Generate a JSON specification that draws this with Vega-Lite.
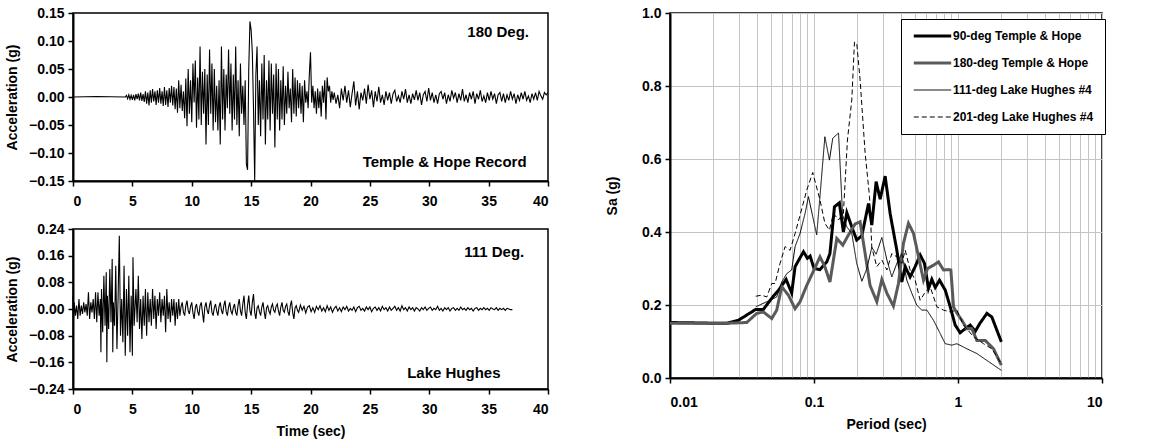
{
"$schema": "https://vega.github.io/schema/vega-lite/v6.json",
"padding": {"left": 4, "top": 5, "right": 5, "bottom": 5},
"config": {
  "font": "Liberation Sans",
  "view": {"stroke": "black", "strokeWidth": 1.5},
  "axis": {"labelFont": "Liberation Sans", "labelFontWeight": "bold", "labelFontSize": 14, "labelColor": "black",
           "titleFont": "Liberation Sans", "titleFontWeight": "bold", "titleFontSize": 14, "titleColor": "black",
           "domainColor": "black", "domainWidth": 2, "tickColor": "black", "tickWidth": 1.5, "tickSize": 5, "grid": false, "labelOverlap": false}
},
"datasets": {
  "th180": [
    {"t":0,"a":0},{"t":2,"a":0.001},{"t":4.4,"a":0},{"t":4.5,"a":0.003},{"t":4.6,"a":-0.003},{"t":4.7,"a":0.004},{"t":4.8,"a":-0.004},{"t":4.9,"a":0.003},
    {"t":5.0,"a":-0.005},{"t":5.1,"a":0.004},{"t":5.2,"a":-0.006},{"t":5.3,"a":0.005},{"t":5.4,"a":-0.004},{"t":5.5,"a":0.006},{"t":5.6,"a":-0.006},{"t":5.7,"a":0.008},{"t":5.8,"a":-0.007},{"t":5.9,"a":0.005},
    {"t":6.0,"a":-0.009},{"t":6.1,"a":0.01},{"t":6.2,"a":-0.012},{"t":6.3,"a":0.008},{"t":6.4,"a":-0.015},{"t":6.5,"a":0.012},{"t":6.6,"a":-0.01},{"t":6.7,"a":0.014},{"t":6.8,"a":-0.008},{"t":6.9,"a":0.01},
    {"t":7.0,"a":-0.014},{"t":7.1,"a":0.012},{"t":7.2,"a":-0.01},{"t":7.3,"a":0.016},{"t":7.4,"a":-0.012},{"t":7.5,"a":0.01},{"t":7.6,"a":-0.016},{"t":7.7,"a":0.018},{"t":7.8,"a":-0.014},{"t":7.9,"a":0.012},
    {"t":8.0,"a":-0.018},{"t":8.1,"a":0.016},{"t":8.2,"a":-0.01},{"t":8.3,"a":0.02},{"t":8.4,"a":-0.015},{"t":8.5,"a":0.018},{"t":8.6,"a":-0.022},{"t":8.7,"a":0.015},{"t":8.8,"a":-0.028},{"t":8.9,"a":0.03},
    {"t":9.0,"a":-0.02},{"t":9.1,"a":0.022},{"t":9.2,"a":-0.025},{"t":9.3,"a":0.01},{"t":9.4,"a":-0.038},{"t":9.5,"a":0.033},{"t":9.6,"a":-0.052},{"t":9.7,"a":0.05},{"t":9.8,"a":-0.03},{"t":9.9,"a":0.03},
    {"t":10.0,"a":-0.045},{"t":10.1,"a":0.06},{"t":10.2,"a":-0.01},{"t":10.3,"a":0.065},{"t":10.4,"a":-0.055},{"t":10.5,"a":0.035},{"t":10.6,"a":-0.04},{"t":10.7,"a":0.09},{"t":10.8,"a":-0.05},{"t":10.9,"a":0.045},
    {"t":11.0,"a":-0.03},{"t":11.1,"a":0.05},{"t":11.2,"a":-0.085},{"t":11.3,"a":0.04},{"t":11.4,"a":-0.05},{"t":11.5,"a":0.085},{"t":11.6,"a":-0.03},{"t":11.7,"a":0.06},{"t":11.8,"a":-0.06},{"t":11.9,"a":0.05},
    {"t":12.0,"a":-0.045},{"t":12.1,"a":0.02},{"t":12.2,"a":-0.06},{"t":12.3,"a":0.03},{"t":12.4,"a":-0.085},{"t":12.5,"a":0.09},{"t":12.6,"a":-0.04},{"t":12.7,"a":0.05},{"t":12.8,"a":-0.06},{"t":12.9,"a":0.04},
    {"t":13.0,"a":-0.02},{"t":13.1,"a":0.085},{"t":13.2,"a":-0.03},{"t":13.3,"a":0.06},{"t":13.4,"a":-0.06},{"t":13.5,"a":0.04},{"t":13.6,"a":-0.04},{"t":13.7,"a":0.09},{"t":13.8,"a":-0.05},{"t":13.9,"a":0.03},
    {"t":14.0,"a":-0.07},{"t":14.1,"a":0.06},{"t":14.2,"a":-0.03},{"t":14.3,"a":0.02},{"t":14.4,"a":-0.05},{"t":14.5,"a":0.03},{"t":14.6,"a":-0.12},{"t":14.7,"a":-0.13},{"t":14.8,"a":0.05},{"t":14.9,"a":0.135},
    {"t":15.0,"a":0.12},{"t":15.1,"a":0.08},{"t":15.2,"a":-0.02},{"t":15.3,"a":-0.15},{"t":15.4,"a":0.04},{"t":15.5,"a":0.09},{"t":15.6,"a":-0.05},{"t":15.7,"a":0.03},{"t":15.8,"a":-0.07},{"t":15.9,"a":0.06},
    {"t":16.0,"a":-0.04},{"t":16.1,"a":0.075},{"t":16.2,"a":-0.085},{"t":16.3,"a":0.03},{"t":16.4,"a":-0.04},{"t":16.5,"a":0.065},{"t":16.6,"a":-0.06},{"t":16.7,"a":0.06},{"t":16.8,"a":-0.03},{"t":16.9,"a":0.04},
    {"t":17.0,"a":-0.09},{"t":17.1,"a":0.06},{"t":17.2,"a":-0.04},{"t":17.3,"a":0.05},{"t":17.4,"a":-0.06},{"t":17.5,"a":0.03},{"t":17.6,"a":-0.04},{"t":17.7,"a":0.055},{"t":17.8,"a":-0.05},{"t":17.9,"a":0.02},
    {"t":18.0,"a":-0.03},{"t":18.1,"a":0.045},{"t":18.2,"a":-0.02},{"t":18.3,"a":0.015},{"t":18.4,"a":-0.045},{"t":18.5,"a":0.05},{"t":18.6,"a":-0.03},{"t":18.7,"a":0.035},{"t":18.8,"a":-0.035},{"t":18.9,"a":0.03},
    {"t":19.0,"a":-0.02},{"t":19.1,"a":0.025},{"t":19.2,"a":-0.03},{"t":19.3,"a":0.02},{"t":19.4,"a":-0.045},{"t":19.5,"a":0.03},{"t":19.6,"a":-0.01},{"t":19.7,"a":0.01},{"t":19.8,"a":-0.02},{"t":19.9,"a":0.04},
    {"t":20.0,"a":0.08},{"t":20.1,"a":-0.01},{"t":20.2,"a":0.02},{"t":20.3,"a":-0.02},{"t":20.4,"a":0.01},{"t":20.5,"a":-0.03},{"t":20.6,"a":0.015},{"t":20.7,"a":-0.02},{"t":20.8,"a":0.01},{"t":20.9,"a":-0.035},
    {"t":21.0,"a":0.02},{"t":21.1,"a":-0.01},{"t":21.2,"a":0.03},{"t":21.3,"a":-0.04},{"t":21.4,"a":0.035},{"t":21.5,"a":0.01},{"t":21.6,"a":0.02},{"t":21.7,"a":-0.01},{"t":21.8,"a":0.01},{"t":21.9,"a":-0.005},
    {"t":22.0,"a":0.008},{"t":22.15,"a":-0.012},{"t":22.3,"a":0.004},{"t":22.45,"a":-0.02},{"t":22.6,"a":0.015},{"t":22.75,"a":-0.006},{"t":22.9,"a":0.02},{"t":23.05,"a":-0.01},{"t":23.2,"a":0.012},{"t":23.35,"a":-0.018},
    {"t":23.5,"a":0.006},{"t":23.65,"a":0.028},{"t":23.8,"a":-0.015},{"t":23.95,"a":0.01},{"t":24.1,"a":-0.022},{"t":24.25,"a":0.008},{"t":24.4,"a":-0.006},{"t":24.55,"a":0.015},{"t":24.7,"a":-0.012},{"t":24.85,"a":0.022},
    {"t":25.0,"a":-0.004},{"t":25.15,"a":0.012},{"t":25.3,"a":-0.018},{"t":25.45,"a":0.01},{"t":25.6,"a":-0.008},{"t":25.75,"a":0.018},{"t":25.9,"a":-0.01},{"t":26.05,"a":0.004},{"t":26.2,"a":-0.014},{"t":26.35,"a":0.01},
    {"t":26.5,"a":-0.006},{"t":26.65,"a":0.008},{"t":26.8,"a":-0.012},{"t":26.95,"a":0.006},{"t":27.1,"a":0.012},{"t":27.25,"a":-0.008},{"t":27.4,"a":0.002},{"t":27.55,"a":-0.01},{"t":27.7,"a":0.01},{"t":27.85,"a":-0.004},
    {"t":28.0,"a":0.014},{"t":28.15,"a":-0.01},{"t":28.3,"a":0.004},{"t":28.45,"a":-0.012},{"t":28.6,"a":0.006},{"t":28.75,"a":-0.005},{"t":28.9,"a":0.012},{"t":29.05,"a":-0.006},{"t":29.2,"a":0.008},{"t":29.35,"a":-0.014},
    {"t":29.5,"a":0.004},{"t":29.65,"a":0.01},{"t":29.8,"a":-0.008},{"t":29.95,"a":0.016},{"t":30.1,"a":-0.006},{"t":30.25,"a":0.008},{"t":30.4,"a":-0.01},{"t":30.55,"a":0.004},{"t":30.7,"a":-0.012},{"t":30.85,"a":0.006},
    {"t":31.0,"a":0.01},{"t":31.15,"a":-0.004},{"t":31.3,"a":0.008},{"t":31.45,"a":-0.012},{"t":31.6,"a":0.004},{"t":31.75,"a":-0.008},{"t":31.9,"a":0.012},{"t":32.05,"a":-0.002},{"t":32.2,"a":0.008},{"t":32.35,"a":-0.01},
    {"t":32.5,"a":0.006},{"t":32.65,"a":-0.006},{"t":32.8,"a":0.014},{"t":32.95,"a":-0.008},{"t":33.1,"a":0.004},{"t":33.25,"a":-0.01},{"t":33.4,"a":0.008},{"t":33.55,"a":-0.004},{"t":33.7,"a":0.01},{"t":33.85,"a":-0.012},
    {"t":34.0,"a":0.006},{"t":34.15,"a":-0.004},{"t":34.3,"a":0.012},{"t":34.45,"a":-0.008},{"t":34.6,"a":0.002},{"t":34.75,"a":-0.01},{"t":34.9,"a":0.008},{"t":35.05,"a":-0.006},{"t":35.2,"a":0.01},{"t":35.35,"a":-0.004},
    {"t":35.5,"a":0.006},{"t":35.65,"a":-0.012},{"t":35.8,"a":0.004},{"t":35.95,"a":0.008},{"t":36.1,"a":-0.008},{"t":36.25,"a":0.006},{"t":36.4,"a":-0.01},{"t":36.55,"a":0.004},{"t":36.7,"a":-0.006},{"t":36.85,"a":0.01},
    {"t":37.0,"a":-0.004},{"t":37.15,"a":0.006},{"t":37.3,"a":-0.012},{"t":37.45,"a":0.004},{"t":37.6,"a":-0.006},{"t":37.75,"a":0.008},{"t":37.9,"a":-0.004},{"t":38.05,"a":0.01},{"t":38.2,"a":-0.006},{"t":38.35,"a":0.002},
    {"t":38.5,"a":-0.01},{"t":38.65,"a":0.006},{"t":38.8,"a":-0.004},{"t":38.95,"a":0.008},{"t":39.1,"a":-0.006},{"t":39.25,"a":0.01},{"t":39.4,"a":0.002},{"t":39.55,"a":-0.004},{"t":39.7,"a":0.008},{"t":39.85,"a":0.004},{"t":40.0,"a":0.008}
  ],
  "th111": [
    {"t":0.0,"a":0.04},{"t":0.05,"a":-0.03},{"t":0.1,"a":0.02},{"t":0.2,"a":-0.02},{"t":0.3,"a":0.01},{"t":0.4,"a":-0.03},{"t":0.5,"a":0.03},{"t":0.6,"a":-0.02},{"t":0.7,"a":0.01},{"t":0.8,"a":-0.015},{"t":0.9,"a":0.02},
    {"t":1.0,"a":-0.01},{"t":1.1,"a":0.015},{"t":1.2,"a":-0.02},{"t":1.3,"a":0.05},{"t":1.4,"a":-0.03},{"t":1.5,"a":0.02},{"t":1.6,"a":-0.01},{"t":1.7,"a":0.03},{"t":1.8,"a":-0.03},{"t":1.9,"a":0.05},
    {"t":2.0,"a":-0.04},{"t":2.1,"a":0.05},{"t":2.2,"a":-0.02},{"t":2.3,"a":0.03},{"t":2.35,"a":-0.13},{"t":2.4,"a":0.06},{"t":2.5,"a":-0.07},{"t":2.6,"a":0.1},{"t":2.7,"a":-0.05},{"t":2.8,"a":0.11},{"t":2.85,"a":-0.16},{"t":2.9,"a":0.04},
    {"t":3.0,"a":-0.06},{"t":3.1,"a":0.12},{"t":3.2,"a":-0.04},{"t":3.3,"a":0.15},{"t":3.35,"a":-0.13},{"t":3.4,"a":0.02},{"t":3.5,"a":-0.05},{"t":3.6,"a":0.13},{"t":3.7,"a":-0.12},{"t":3.8,"a":0.04},{"t":3.9,"a":0.22},
    {"t":4.0,"a":-0.08},{"t":4.1,"a":0.03},{"t":4.2,"a":-0.1},{"t":4.3,"a":0.13},{"t":4.4,"a":-0.14},{"t":4.5,"a":0.06},{"t":4.6,"a":-0.08},{"t":4.7,"a":0.1},{"t":4.8,"a":-0.13},{"t":4.9,"a":0.04},
    {"t":5.0,"a":-0.14},{"t":5.05,"a":0.155},{"t":5.15,"a":-0.05},{"t":5.3,"a":0.06},{"t":5.4,"a":-0.04},{"t":5.5,"a":0.1},{"t":5.6,"a":-0.06},{"t":5.7,"a":0.03},{"t":5.8,"a":-0.09},{"t":5.9,"a":0.04},
    {"t":6.0,"a":-0.05},{"t":6.1,"a":0.06},{"t":6.2,"a":-0.08},{"t":6.3,"a":0.05},{"t":6.4,"a":-0.04},{"t":6.5,"a":0.03},{"t":6.6,"a":-0.05},{"t":6.7,"a":0.06},{"t":6.8,"a":-0.03},{"t":6.9,"a":0.04},
    {"t":7.0,"a":-0.06},{"t":7.1,"a":0.03},{"t":7.2,"a":-0.02},{"t":7.3,"a":0.05},{"t":7.4,"a":-0.04},{"t":7.5,"a":0.03},{"t":7.6,"a":-0.02},{"t":7.7,"a":0.04},{"t":7.8,"a":-0.07},{"t":7.9,"a":0.06},
    {"t":8.0,"a":-0.03},{"t":8.1,"a":0.02},{"t":8.2,"a":-0.04},{"t":8.3,"a":0.03},{"t":8.4,"a":-0.02},{"t":8.5,"a":0.03},{"t":8.6,"a":-0.05},{"t":8.7,"a":0.02},{"t":8.8,"a":-0.03},{"t":8.9,"a":0.03},
    {"t":9.0,"a":-0.02},{"t":9.1,"a":0.008},{"t":9.2,"a":0.02},{"t":9.3,"a":-0.01},{"t":9.4,"a":-0.02},{"t":9.5,"a":0.01},{"t":9.6,"a":0.025},{"t":9.7,"a":-0.005},{"t":9.8,"a":-0.015},{"t":9.9,"a":0.008},
    {"t":10.0,"a":0.02},{"t":10.1,"a":-0.012},{"t":10.2,"a":-0.03},{"t":10.3,"a":0.004},{"t":10.4,"a":0.015},{"t":10.5,"a":-0.008},{"t":10.6,"a":-0.02},{"t":10.7,"a":0.01},{"t":10.8,"a":0.02},{"t":10.9,"a":-0.01},
    {"t":11.0,"a":-0.04},{"t":11.1,"a":0.006},{"t":11.2,"a":0.02},{"t":11.3,"a":-0.004},{"t":11.4,"a":-0.015},{"t":11.5,"a":0.012},{"t":11.6,"a":0.025},{"t":11.7,"a":-0.01},{"t":11.8,"a":-0.02},{"t":11.9,"a":0.004},
    {"t":12.0,"a":0.015},{"t":12.1,"a":-0.006},{"t":12.2,"a":-0.02},{"t":12.3,"a":0.008},{"t":12.4,"a":0.02},{"t":12.5,"a":-0.004},{"t":12.6,"a":-0.015},{"t":12.7,"a":0.01},{"t":12.8,"a":0.025},{"t":12.9,"a":-0.008},
    {"t":13.0,"a":-0.02},{"t":13.1,"a":0.006},{"t":13.2,"a":0.02},{"t":13.3,"a":-0.006},{"t":13.4,"a":-0.015},{"t":13.5,"a":0.004},{"t":13.6,"a":0.015},{"t":13.7,"a":-0.01},{"t":13.8,"a":-0.02},{"t":13.9,"a":0.012},
    {"t":14.0,"a":0.03},{"t":14.1,"a":-0.006},{"t":14.2,"a":-0.02},{"t":14.3,"a":0.015},{"t":14.4,"a":0.04},{"t":14.5,"a":-0.01},{"t":14.6,"a":-0.03},{"t":14.7,"a":0.012},{"t":14.8,"a":0.04},{"t":14.9,"a":-0.005},
    {"t":15.0,"a":-0.02},{"t":15.1,"a":0.02},{"t":15.2,"a":0.045},{"t":15.3,"a":-0.01},{"t":15.4,"a":-0.03},{"t":15.5,"a":0.004},{"t":15.6,"a":0.01},{"t":15.7,"a":-0.008},{"t":15.8,"a":-0.02},{"t":15.9,"a":0.006},
    {"t":16.0,"a":0.02},{"t":16.1,"a":-0.008},{"t":16.2,"a":-0.03},{"t":16.3,"a":0.004},{"t":16.4,"a":0.01},{"t":16.5,"a":-0.006},{"t":16.6,"a":-0.015},{"t":16.7,"a":0.006},{"t":16.8,"a":0.015},{"t":16.9,"a":-0.004},
    {"t":17.0,"a":-0.01},{"t":17.1,"a":0.008},{"t":17.2,"a":0.015},{"t":17.3,"a":-0.006},{"t":17.4,"a":-0.02},{"t":17.5,"a":0.006},{"t":17.6,"a":0.02},{"t":17.7,"a":-0.004},{"t":17.8,"a":-0.01},{"t":17.9,"a":0.008},
    {"t":18.0,"a":0.015},{"t":18.1,"a":-0.008},{"t":18.2,"a":-0.02},{"t":18.3,"a":0.01},{"t":18.4,"a":0.025},{"t":18.5,"a":-0.01},{"t":18.6,"a":-0.03},{"t":18.7,"a":0.004},{"t":18.8,"a":0.01},{"t":18.9,"a":-0.004},
    {"t":19.0,"a":-0.01},{"t":19.15,"a":0.012},{"t":19.3,"a":-0.004},{"t":19.45,"a":0.008},{"t":19.6,"a":-0.012},{"t":19.75,"a":0.006},{"t":19.9,"a":0.01},{"t":20.05,"a":-0.008},{"t":20.2,"a":0.004},{"t":20.35,"a":-0.01},
    {"t":20.5,"a":0.008},{"t":20.65,"a":-0.002},{"t":20.8,"a":0.01},{"t":20.95,"a":-0.006},{"t":21.1,"a":0.004},{"t":21.25,"a":-0.008},{"t":21.4,"a":0.01},{"t":21.55,"a":-0.004},{"t":21.7,"a":0.006},{"t":21.85,"a":-0.01},
    {"t":22.0,"a":0.002},{"t":22.15,"a":0.008},{"t":22.3,"a":-0.006},{"t":22.45,"a":0.004},{"t":22.6,"a":-0.008},{"t":22.75,"a":0.006},{"t":22.9,"a":-0.002},{"t":23.05,"a":0.008},{"t":23.2,"a":-0.006},{"t":23.35,"a":0.002},
    {"t":23.5,"a":-0.004},{"t":23.65,"a":0.006},{"t":23.8,"a":-0.008},{"t":23.95,"a":0.004},{"t":24.1,"a":0.008},{"t":24.25,"a":-0.004},{"t":24.4,"a":0.002},{"t":24.55,"a":-0.006},{"t":24.7,"a":0.006},{"t":24.85,"a":-0.002},
    {"t":25.0,"a":0.006},{"t":25.15,"a":-0.008},{"t":25.3,"a":0.002},{"t":25.45,"a":0.006},{"t":25.6,"a":-0.004},{"t":25.75,"a":0.004},{"t":25.9,"a":-0.006},{"t":26.05,"a":0.008},{"t":26.2,"a":-0.002},{"t":26.35,"a":0.004},
    {"t":26.5,"a":-0.006},{"t":26.65,"a":0.006},{"t":26.8,"a":-0.004},{"t":26.95,"a":0.002},{"t":27.1,"a":0.008},{"t":27.25,"a":-0.004},{"t":27.4,"a":0.004},{"t":27.55,"a":-0.006},{"t":27.7,"a":0.01},{"t":27.85,"a":-0.002},
    {"t":28.0,"a":0.004},{"t":28.15,"a":-0.006},{"t":28.3,"a":0.006},{"t":28.45,"a":-0.002},{"t":28.6,"a":0.004},{"t":28.75,"a":-0.006},{"t":28.9,"a":0.004},{"t":29.05,"a":0.0},{"t":29.2,"a":-0.006},{"t":29.35,"a":0.004},
    {"t":29.5,"a":-0.002},{"t":29.65,"a":0.006},{"t":29.8,"a":-0.004},{"t":29.95,"a":0.002},{"t":30.1,"a":0.006},{"t":30.25,"a":-0.004},{"t":30.4,"a":0.002},{"t":30.55,"a":-0.002},{"t":30.7,"a":0.008},{"t":30.85,"a":-0.004},
    {"t":31.0,"a":0.002},{"t":31.15,"a":-0.006},{"t":31.3,"a":0.004},{"t":31.45,"a":-0.002},{"t":31.6,"a":0.004},{"t":31.75,"a":-0.006},{"t":31.9,"a":0.002},{"t":32.05,"a":0.004},{"t":32.2,"a":-0.004},{"t":32.35,"a":0.002},
    {"t":32.5,"a":-0.004},{"t":32.65,"a":0.006},{"t":32.8,"a":-0.002},{"t":32.95,"a":0.002},{"t":33.1,"a":-0.004},{"t":33.25,"a":0.004},{"t":33.4,"a":-0.002},{"t":33.55,"a":0.002},{"t":33.7,"a":-0.006},{"t":33.85,"a":0.002},
    {"t":34.0,"a":0.004},{"t":34.15,"a":-0.004},{"t":34.3,"a":0.002},{"t":34.45,"a":-0.002},{"t":34.6,"a":0.004},{"t":34.75,"a":-0.002},{"t":34.9,"a":0.002},{"t":35.05,"a":-0.004},{"t":35.2,"a":0.004},{"t":35.35,"a":0.0},
    {"t":35.5,"a":-0.002},{"t":35.65,"a":0.004},{"t":35.8,"a":-0.004},{"t":35.95,"a":0.002},{"t":36.1,"a":-0.002},{"t":36.25,"a":0.002},{"t":36.4,"a":-0.004},{"t":36.55,"a":0.002},{"t":36.7,"a":0.0},{"t":36.85,"a":-0.002},{"t":37.0,"a":-0.002}
  ],
  "notes180": [
    {"t": 38.4, "a": 0.116, "label": "180 Deg."},
    {"t": 38.2, "a": -0.116, "label": "Temple & Hope Record"}
  ],
  "notes111": [
    {"t": 38.0, "a": 0.171, "label": "111 Deg."},
    {"t": 36.0, "a": -0.192, "label": "Lake Hughes"}
  ],
  "sa": [
    {"s":"90-deg Temple & Hope","T":0.01,"v":0.152},{"s":"90-deg Temple & Hope","T":0.015,"v":0.151},{"s":"90-deg Temple & Hope","T":0.02,"v":0.15},{"s":"90-deg Temple & Hope","T":0.0248,"v":0.15},
    {"s":"90-deg Temple & Hope","T":0.0298,"v":0.158},{"s":"90-deg Temple & Hope","T":0.0394,"v":0.188},{"s":"90-deg Temple & Hope","T":0.0445,"v":0.188},{"s":"90-deg Temple & Hope","T":0.0517,"v":0.222},
    {"s":"90-deg Temple & Hope","T":0.0566,"v":0.24},{"s":"90-deg Temple & Hope","T":0.064,"v":0.27},{"s":"90-deg Temple & Hope","T":0.07,"v":0.233},{"s":"90-deg Temple & Hope","T":0.0739,"v":0.305},
    {"s":"90-deg Temple & Hope","T":0.0845,"v":0.346},{"s":"90-deg Temple & Hope","T":0.09,"v":0.328},{"s":"90-deg Temple & Hope","T":0.094,"v":0.334},{"s":"90-deg Temple & Hope","T":0.1,"v":0.3},
    {"s":"90-deg Temple & Hope","T":0.11,"v":0.297},{"s":"90-deg Temple & Hope","T":0.1227,"v":0.318},{"s":"90-deg Temple & Hope","T":0.129,"v":0.341},{"s":"90-deg Temple & Hope","T":0.1387,"v":0.469},
    {"s":"90-deg Temple & Hope","T":0.15,"v":0.48},{"s":"90-deg Temple & Hope","T":0.16,"v":0.4},{"s":"90-deg Temple & Hope","T":0.169,"v":0.453},{"s":"90-deg Temple & Hope","T":0.183,"v":0.414},
    {"s":"90-deg Temple & Hope","T":0.198,"v":0.378},{"s":"90-deg Temple & Hope","T":0.215,"v":0.39},{"s":"90-deg Temple & Hope","T":0.239,"v":0.478},{"s":"90-deg Temple & Hope","T":0.252,"v":0.419},
    {"s":"90-deg Temple & Hope","T":0.27,"v":0.538},{"s":"90-deg Temple & Hope","T":0.288,"v":0.49},{"s":"90-deg Temple & Hope","T":0.312,"v":0.553},{"s":"90-deg Temple & Hope","T":0.338,"v":0.45},
    {"s":"90-deg Temple & Hope","T":0.376,"v":0.35},{"s":"90-deg Temple & Hope","T":0.407,"v":0.263},{"s":"90-deg Temple & Hope","T":0.43,"v":0.305},{"s":"90-deg Temple & Hope","T":0.465,"v":0.277},
    {"s":"90-deg Temple & Hope","T":0.504,"v":0.305},{"s":"90-deg Temple & Hope","T":0.546,"v":0.337},{"s":"90-deg Temple & Hope","T":0.585,"v":0.314},{"s":"90-deg Temple & Hope","T":0.624,"v":0.245},
    {"s":"90-deg Temple & Hope","T":0.658,"v":0.27},{"s":"90-deg Temple & Hope","T":0.695,"v":0.248},{"s":"90-deg Temple & Hope","T":0.744,"v":0.268},{"s":"90-deg Temple & Hope","T":0.815,"v":0.241},
    {"s":"90-deg Temple & Hope","T":0.883,"v":0.195},{"s":"90-deg Temple & Hope","T":0.956,"v":0.145},{"s":"90-deg Temple & Hope","T":1.035,"v":0.124},{"s":"90-deg Temple & Hope","T":1.122,"v":0.135},
    {"s":"90-deg Temple & Hope","T":1.216,"v":0.145},{"s":"90-deg Temple & Hope","T":1.318,"v":0.128},{"s":"90-deg Temple & Hope","T":1.426,"v":0.151},{"s":"90-deg Temple & Hope","T":1.588,"v":0.177},
    {"s":"90-deg Temple & Hope","T":1.718,"v":0.167},{"s":"90-deg Temple & Hope","T":2.0,"v":0.099},

    {"s":"180-deg Temple & Hope","T":0.01,"v":0.15},{"s":"180-deg Temple & Hope","T":0.015,"v":0.15},{"s":"180-deg Temple & Hope","T":0.02,"v":0.15},{"s":"180-deg Temple & Hope","T":0.0248,"v":0.15},
    {"s":"180-deg Temple & Hope","T":0.0341,"v":0.152},{"s":"180-deg Temple & Hope","T":0.04,"v":0.177},{"s":"180-deg Temple & Hope","T":0.0445,"v":0.181},{"s":"180-deg Temple & Hope","T":0.0509,"v":0.163},
    {"s":"180-deg Temple & Hope","T":0.0551,"v":0.186},{"s":"180-deg Temple & Hope","T":0.0597,"v":0.25},{"s":"180-deg Temple & Hope","T":0.0664,"v":0.227},{"s":"180-deg Temple & Hope","T":0.0739,"v":0.19},
    {"s":"180-deg Temple & Hope","T":0.08,"v":0.209},{"s":"180-deg Temple & Hope","T":0.0891,"v":0.254},{"s":"180-deg Temple & Hope","T":0.1,"v":0.296},{"s":"180-deg Temple & Hope","T":0.11,"v":0.332},
    {"s":"180-deg Temple & Hope","T":0.119,"v":0.305},{"s":"180-deg Temple & Hope","T":0.129,"v":0.263},{"s":"180-deg Temple & Hope","T":0.144,"v":0.382},{"s":"180-deg Temple & Hope","T":0.1585,"v":0.364},
    {"s":"180-deg Temple & Hope","T":0.1735,"v":0.392},{"s":"180-deg Temple & Hope","T":0.193,"v":0.422},{"s":"180-deg Temple & Hope","T":0.209,"v":0.428},{"s":"180-deg Temple & Hope","T":0.2265,"v":0.341},
    {"s":"180-deg Temple & Hope","T":0.245,"v":0.254},{"s":"180-deg Temple & Hope","T":0.273,"v":0.209},{"s":"180-deg Temple & Hope","T":0.296,"v":0.27},{"s":"180-deg Temple & Hope","T":0.321,"v":0.232},
    {"s":"180-deg Temple & Hope","T":0.356,"v":0.197},{"s":"180-deg Temple & Hope","T":0.386,"v":0.259},{"s":"180-deg Temple & Hope","T":0.418,"v":0.369},{"s":"180-deg Temple & Hope","T":0.453,"v":0.424},
    {"s":"180-deg Temple & Hope","T":0.491,"v":0.396},{"s":"180-deg Temple & Hope","T":0.532,"v":0.332},{"s":"180-deg Temple & Hope","T":0.576,"v":0.268},{"s":"180-deg Temple & Hope","T":0.614,"v":0.3},
    {"s":"180-deg Temple & Hope","T":0.676,"v":0.309},{"s":"180-deg Temple & Hope","T":0.732,"v":0.318},{"s":"180-deg Temple & Hope","T":0.793,"v":0.296},{"s":"180-deg Temple & Hope","T":0.859,"v":0.297},
    {"s":"180-deg Temple & Hope","T":0.892,"v":0.296},{"s":"180-deg Temple & Hope","T":0.931,"v":0.195},{"s":"180-deg Temple & Hope","T":0.982,"v":0.178},{"s":"180-deg Temple & Hope","T":1.064,"v":0.158},
    {"s":"180-deg Temple & Hope","T":1.153,"v":0.135},{"s":"180-deg Temple & Hope","T":1.249,"v":0.135},{"s":"180-deg Temple & Hope","T":1.352,"v":0.103},{"s":"180-deg Temple & Hope","T":1.545,"v":0.103},
    {"s":"180-deg Temple & Hope","T":1.766,"v":0.08},{"s":"180-deg Temple & Hope","T":2.0,"v":0.035},

    {"s":"111-deg Lake Hughes #4","T":0.0394,"v":0.195},{"s":"111-deg Lake Hughes #4","T":0.047,"v":0.209},{"s":"111-deg Lake Hughes #4","T":0.0551,"v":0.222},{"s":"111-deg Lake Hughes #4","T":0.0597,"v":0.263},
    {"s":"111-deg Lake Hughes #4","T":0.0647,"v":0.286},{"s":"111-deg Lake Hughes #4","T":0.07,"v":0.296},{"s":"111-deg Lake Hughes #4","T":0.0739,"v":0.36},{"s":"111-deg Lake Hughes #4","T":0.08,"v":0.396},
    {"s":"111-deg Lake Hughes #4","T":0.0867,"v":0.451},{"s":"111-deg Lake Hughes #4","T":0.0915,"v":0.497},{"s":"111-deg Lake Hughes #4","T":0.098,"v":0.442},{"s":"111-deg Lake Hughes #4","T":0.1044,"v":0.392},
    {"s":"111-deg Lake Hughes #4","T":0.11,"v":0.497},{"s":"111-deg Lake Hughes #4","T":0.119,"v":0.661},{"s":"111-deg Lake Hughes #4","T":0.128,"v":0.597},{"s":"111-deg Lake Hughes #4","T":0.135,"v":0.657},
    {"s":"111-deg Lake Hughes #4","T":0.148,"v":0.671},{"s":"111-deg Lake Hughes #4","T":0.158,"v":0.446},{"s":"111-deg Lake Hughes #4","T":0.169,"v":0.414},{"s":"111-deg Lake Hughes #4","T":0.183,"v":0.396},
    {"s":"111-deg Lake Hughes #4","T":0.198,"v":0.314},{"s":"111-deg Lake Hughes #4","T":0.215,"v":0.265},{"s":"111-deg Lake Hughes #4","T":0.2328,"v":0.3},{"s":"111-deg Lake Hughes #4","T":0.252,"v":0.358},
    {"s":"111-deg Lake Hughes #4","T":0.27,"v":0.339},{"s":"111-deg Lake Hughes #4","T":0.296,"v":0.385},{"s":"111-deg Lake Hughes #4","T":0.321,"v":0.323},{"s":"111-deg Lake Hughes #4","T":0.347,"v":0.277},
    {"s":"111-deg Lake Hughes #4","T":0.376,"v":0.314},{"s":"111-deg Lake Hughes #4","T":0.407,"v":0.341},{"s":"111-deg Lake Hughes #4","T":0.441,"v":0.268},{"s":"111-deg Lake Hughes #4","T":0.478,"v":0.232},
    {"s":"111-deg Lake Hughes #4","T":0.518,"v":0.199},{"s":"111-deg Lake Hughes #4","T":0.561,"v":0.186},{"s":"111-deg Lake Hughes #4","T":0.608,"v":0.186},{"s":"111-deg Lake Hughes #4","T":0.676,"v":0.158},
    {"s":"111-deg Lake Hughes #4","T":0.752,"v":0.122},{"s":"111-deg Lake Hughes #4","T":0.815,"v":0.094},{"s":"111-deg Lake Hughes #4","T":0.906,"v":0.09},{"s":"111-deg Lake Hughes #4","T":0.982,"v":0.094},
    {"s":"111-deg Lake Hughes #4","T":1.153,"v":0.08},{"s":"111-deg Lake Hughes #4","T":1.352,"v":0.067},{"s":"111-deg Lake Hughes #4","T":1.588,"v":0.048},{"s":"111-deg Lake Hughes #4","T":2.0,"v":0.021},

    {"s":"201-deg Lake Hughes #4","T":0.0394,"v":0.224},{"s":"201-deg Lake Hughes #4","T":0.0434,"v":0.227},{"s":"201-deg Lake Hughes #4","T":0.047,"v":0.222},{"s":"201-deg Lake Hughes #4","T":0.0509,"v":0.259},
    {"s":"201-deg Lake Hughes #4","T":0.0537,"v":0.259},{"s":"201-deg Lake Hughes #4","T":0.0581,"v":0.314},{"s":"201-deg Lake Hughes #4","T":0.063,"v":0.36},{"s":"201-deg Lake Hughes #4","T":0.0682,"v":0.35},
    {"s":"201-deg Lake Hughes #4","T":0.0739,"v":0.396},{"s":"201-deg Lake Hughes #4","T":0.08,"v":0.446},{"s":"201-deg Lake Hughes #4","T":0.0891,"v":0.515},{"s":"201-deg Lake Hughes #4","T":0.098,"v":0.563},
    {"s":"201-deg Lake Hughes #4","T":0.11,"v":0.488},{"s":"201-deg Lake Hughes #4","T":0.119,"v":0.424},{"s":"201-deg Lake Hughes #4","T":0.128,"v":0.405},{"s":"201-deg Lake Hughes #4","T":0.1365,"v":0.451},
    {"s":"201-deg Lake Hughes #4","T":0.148,"v":0.433},{"s":"201-deg Lake Hughes #4","T":0.16,"v":0.451},{"s":"201-deg Lake Hughes #4","T":0.1707,"v":0.652},{"s":"201-deg Lake Hughes #4","T":0.183,"v":0.762},
    {"s":"201-deg Lake Hughes #4","T":0.191,"v":0.92},{"s":"201-deg Lake Hughes #4","T":0.198,"v":0.918},{"s":"201-deg Lake Hughes #4","T":0.209,"v":0.817},{"s":"201-deg Lake Hughes #4","T":0.2265,"v":0.616},
    {"s":"201-deg Lake Hughes #4","T":0.243,"v":0.497},{"s":"201-deg Lake Hughes #4","T":0.252,"v":0.358},{"s":"201-deg Lake Hughes #4","T":0.273,"v":0.305},{"s":"201-deg Lake Hughes #4","T":0.296,"v":0.323},
    {"s":"201-deg Lake Hughes #4","T":0.321,"v":0.296},{"s":"201-deg Lake Hughes #4","T":0.347,"v":0.341},{"s":"201-deg Lake Hughes #4","T":0.376,"v":0.332},{"s":"201-deg Lake Hughes #4","T":0.407,"v":0.314},
    {"s":"201-deg Lake Hughes #4","T":0.43,"v":0.35},{"s":"201-deg Lake Hughes #4","T":0.465,"v":0.296},{"s":"201-deg Lake Hughes #4","T":0.504,"v":0.268},{"s":"201-deg Lake Hughes #4","T":0.546,"v":0.213},
    {"s":"201-deg Lake Hughes #4","T":0.585,"v":0.232},{"s":"201-deg Lake Hughes #4","T":0.641,"v":0.25},{"s":"201-deg Lake Hughes #4","T":0.713,"v":0.195},{"s":"201-deg Lake Hughes #4","T":0.793,"v":0.186},
    {"s":"201-deg Lake Hughes #4","T":0.883,"v":0.181},{"s":"201-deg Lake Hughes #4","T":0.982,"v":0.186},{"s":"201-deg Lake Hughes #4","T":1.092,"v":0.145},{"s":"201-deg Lake Hughes #4","T":1.283,"v":0.113},
    {"s":"201-deg Lake Hughes #4","T":1.504,"v":0.094},{"s":"201-deg Lake Hughes #4","T":1.718,"v":0.08},{"s":"201-deg Lake Hughes #4","T":2.0,"v":0.039}
  ]
},
"spacing": 53,
"hconcat": [
  {
    "spacing": 12,
    "vconcat": [
      {
        "width": 475, "height": 168,
        "encoding": {
          "x": {"field": "t", "type": "quantitative", "scale": {"domain": [0, 40], "nice": false},
                "axis": {"values": [0,5,10,15,20,25,30,35,40], "title": null, "labelPadding": 8, "labelOverlap": false}},
          "y": {"field": "a", "type": "quantitative", "scale": {"domain": [-0.15, 0.15], "nice": false},
                "axis": {"values": [-0.15,-0.1,-0.05,0,0.05,0.1,0.15], "format": ".2f", "title": "Acceleration (g)", "titlePadding": 9, "labelPadding": 4, "labelOverlap": false, "labelBound": false}}
        },
        "layer": [
          {
            "data": {"name": "th180"},
            "mark": {"type": "line", "color": "black", "strokeWidth": 1.1}
          },
          {
            "data": {"name": "notes180"},
            "mark": {"type": "text", "align": "right", "baseline": "middle", "fontWeight": "bold", "fontSize": 15, "font": "Liberation Sans", "color": "black"},
            "encoding": {"text": {"field": "label"}}
          }
        ]
      },
      {
        "width": 475, "height": 160,
        "encoding": {
          "x": {"field": "t", "type": "quantitative", "scale": {"domain": [0, 40], "nice": false},
                "axis": {"values": [0,5,10,15,20,25,30,35,40], "title": "Time (sec)", "titlePadding": 8, "labelPadding": 8, "labelOverlap": false}},
          "y": {"field": "a", "type": "quantitative", "scale": {"domain": [-0.24, 0.24], "nice": false},
                "axis": {"values": [-0.24,-0.16,-0.08,0,0.08,0.16,0.24], "format": ".2f", "title": "Acceleration (g)", "titlePadding": 9, "labelPadding": 4, "labelOverlap": false, "labelBound": false}}
        },
        "layer": [
          {
            "data": {"name": "th111"},
            "mark": {"type": "line", "color": "black", "strokeWidth": 1.1}
          },
          {
            "data": {"name": "notes111"},
            "mark": {"type": "text", "align": "right", "baseline": "middle", "fontWeight": "bold", "fontSize": 15, "font": "Liberation Sans", "color": "black"},
            "encoding": {"text": {"field": "label"}}
          }
        ]
      }
    ]
  },
  {
    "width": 432, "height": 365,
    "data": {"name": "sa"},
    "mark": {"type": "line"},
    "encoding": {
      "x": {"field": "T", "type": "quantitative", "scale": {"type": "log", "domain": [0.01, 10], "nice": false},
            "axis": {"values": [0.01,0.02,0.03,0.04,0.05,0.06,0.07,0.08,0.09,0.1,0.2,0.3,0.4,0.5,0.6,0.7,0.8,0.9,1,2,3,4,5,6,7,8,9,10],
                     "grid": true, "gridColor": "#c4c4c4", "gridWidth": 1, "labelOverlap": false,
                     "labelExpr": "datum.value == 0.01 ? '0.01' : datum.value == 0.1 ? '0.1' : datum.value == 1 ? '1' : datum.value == 10 ? '10' : ''",
                     "tickOpacity": {"condition": {"test": "datum.value == 0.01 || datum.value == 0.1 || datum.value == 1 || datum.value == 10", "value": 1}, "value": 0},
                     "title": "Period (sec)", "titlePadding": 8, "labelPadding": 12}},
      "y": {"field": "v", "type": "quantitative", "scale": {"domain": [0, 1], "nice": false},
            "axis": {"values": [0,0.2,0.4,0.6,0.8,1.0], "format": ".1f", "grid": true, "gridColor": "#c4c4c4", "gridWidth": 1, "labelOverlap": false,
                     "title": "Sa (g)", "titlePadding": 22, "labelPadding": 4}},
      "color": {"field": "s", "type": "nominal",
                "scale": {"domain": ["90-deg Temple & Hope","180-deg Temple & Hope","111-deg Lake Hughes #4","201-deg Lake Hughes #4"],
                          "range": ["#000000","#5a5a5a","#000000","#000000"]},
                "legend": {"orient": "none", "legendX": 828, "legendY": 6, "title": null, "symbolType": "stroke", "symbolSize": 1400, "clipHeight": 12,
                           "labelFont": "Liberation Sans", "labelFontWeight": "bold", "labelFontSize": 12, "labelColor": "black",
                           "strokeColor": "black", "fillColor": "white", "padding": 11, "rowPadding": 15, "labelOffset": 0}},
      "strokeWidth": {"field": "s", "type": "nominal",
                "scale": {"type": "ordinal", "domain": ["90-deg Temple & Hope","180-deg Temple & Hope","111-deg Lake Hughes #4","201-deg Lake Hughes #4"],
                          "range": [3, 3, 1, 1]},
                "legend": {"orient": "none", "legendX": 828, "legendY": 6, "title": null, "symbolType": "stroke", "symbolSize": 1400, "clipHeight": 12,
                           "labelFont": "Liberation Sans", "labelFontWeight": "bold", "labelFontSize": 12, "labelColor": "black",
                           "strokeColor": "black", "fillColor": "white", "padding": 11, "rowPadding": 15, "labelOffset": 0}},
      "strokeDash": {"field": "s", "type": "nominal",
                "scale": {"type": "ordinal", "domain": ["90-deg Temple & Hope","180-deg Temple & Hope","111-deg Lake Hughes #4","201-deg Lake Hughes #4"],
                          "range": [[1,0],[1,0],[1,0],[5,3]]},
                "legend": {"orient": "none", "legendX": 828, "legendY": 6, "title": null, "symbolType": "stroke", "symbolSize": 1400, "clipHeight": 12,
                           "labelFont": "Liberation Sans", "labelFontWeight": "bold", "labelFontSize": 12, "labelColor": "black",
                           "strokeColor": "black", "fillColor": "white", "padding": 11, "rowPadding": 15, "labelOffset": 0}}
    }
  }
]
}
